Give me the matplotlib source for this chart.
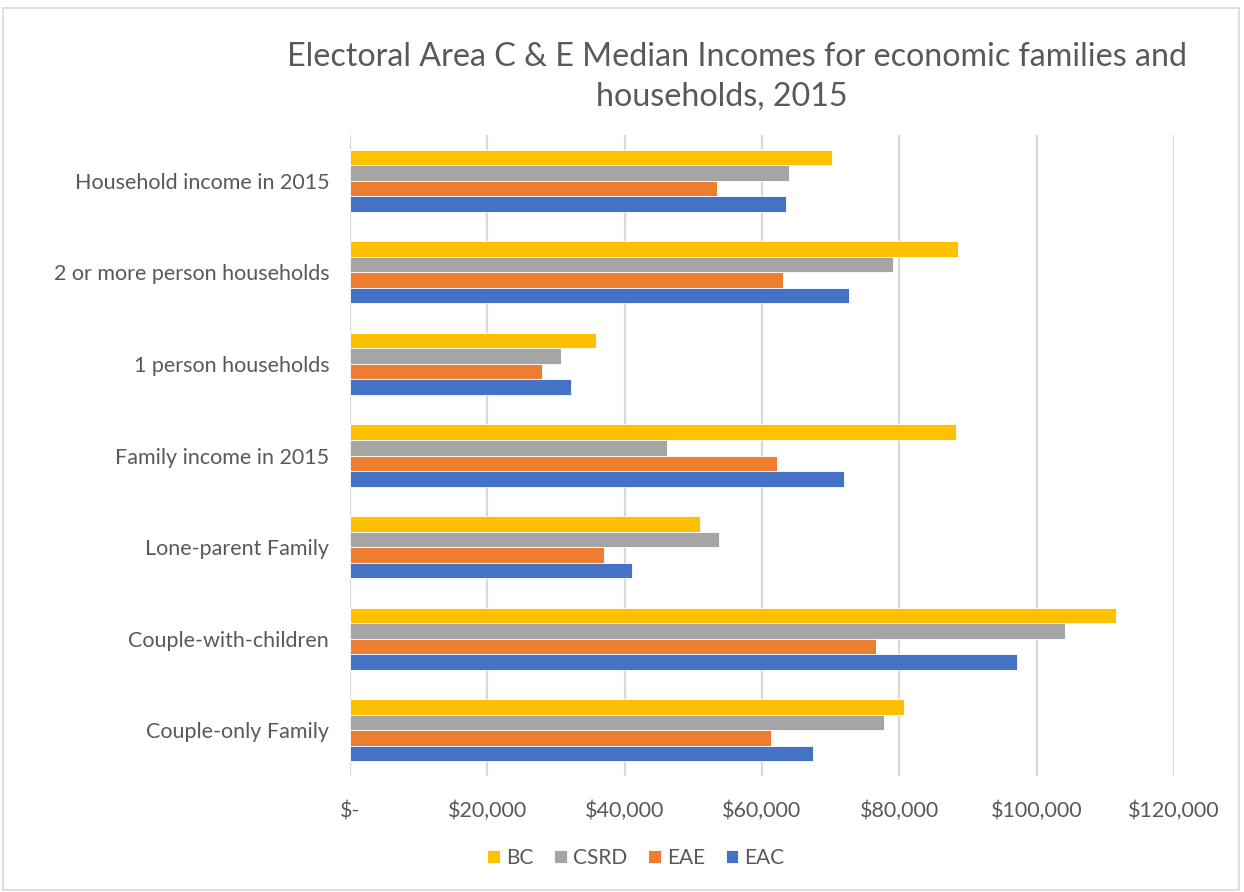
import numpy as np
import matplotlib.pyplot as plt
from matplotlib.patches import Rectangle

# categories, top to bottom
categories = ['Household income in 2015', '2 or more person households', '1 person households',
              'Family income in 2015', 'Lone-parent Family', 'Couple-with-children', 'Couple-only Family']
series = ['BC', 'CSRD', 'EAE', 'EAC']
bc = [70200, 88500, 35800, 88300, 51000, 111600, 80700]
csrd = [64000, 79100, 30700, 46100, 53800, 104100, 77800]
eae = [53400, 63000, 27900, 62200, 37000, 76600, 61300]
eac = [63500, 72700, 32200, 71900, 41000, 97100, 67400]
colors = ['#FFC000', '#A5A5A5', '#ED7D31', '#4472C4']
xticks = [0, 20000, 40000, 60000, 80000, 100000, 120000]

plt.rcParams['font.family'] = ['Lato', 'DejaVu Sans']
txt = '#595959'

fig = plt.figure(figsize=(12.44, 8.92), dpi=100)
ax = fig.add_axes([350/1244, 1-776/892, 824/1244, 641/892])

pos = np.arange(len(categories))
h = 0.17
for i, (vals, col, name) in enumerate(zip([bc, csrd, eae, eac], colors, series)):
    ax.barh(pos + (i - 1.5) * h, vals, height=h, color=col, edgecolor='white',
            linewidth=0.6, label=name, zorder=3)

ax.set_ylim(len(categories) - 0.5, -0.5)
ax.set_xlim(0, 120000)
ax.set_yticks(pos)
ax.set_yticklabels(categories, fontsize=15.5, color=txt)
ax.set_xticks(xticks)
ax.set_xticklabels(['$-' if v == 0 else f'${v:,}' for v in xticks], fontsize=15.5, color=txt)
ax.tick_params(axis='both', length=0)
ax.tick_params(axis='y', pad=15)
ax.tick_params(axis='x', pad=18)
ax.grid(axis='x', color='#D9D9D9', linewidth=1.6, zorder=0)
ax.set_axisbelow(True)
for s in ax.spines.values():
    s.set_visible(False)

fig.text(737/1244, 1-57/892, 'Electoral Area C & E Median Incomes for economic families and',
         ha='center', va='center', fontsize=23.2, color=txt)
fig.text(722/1244, 1-97/892, 'households, 2015', ha='center', va='center', fontsize=23.2, color=txt)

fig.legend(loc='center', bbox_to_anchor=(636/1244, 1-858/892), ncol=4, frameon=False,
           fontsize=15, labelcolor=txt, handlelength=0.6, handleheight=0.6,
           handletextpad=0.3, columnspacing=1.0)

fig.patches.append(Rectangle((3/1244, 0.002), 1236/1244, 1-8/892-0.002, transform=fig.transFigure,
                             fill=False, edgecolor='#D9D9D9', linewidth=1.2))

fig.savefig('out.png', dpi=100)
